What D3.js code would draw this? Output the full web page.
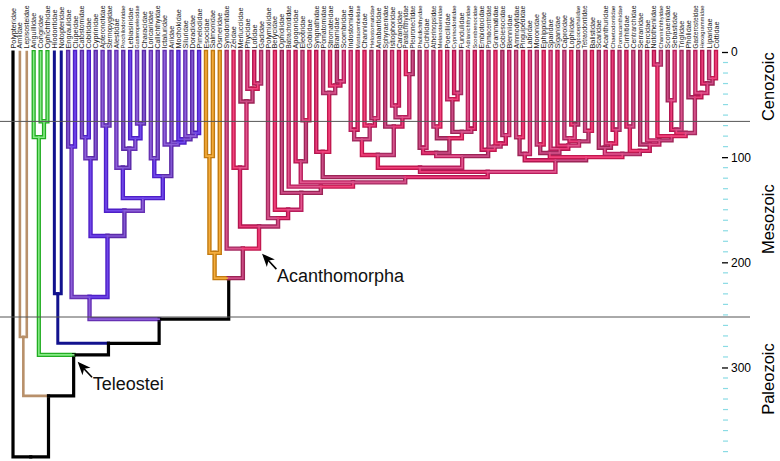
<!DOCTYPE html>
<html><head><meta charset="utf-8">
<script src="https://cdn.jsdelivr.net/npm/d3@7"></script>
<style>body{margin:0;background:#fff}svg{display:block;font-family:"Liberation Sans",Arial,sans-serif}</style>
</head><body><svg id="c" width="780" height="461"></svg>
<script>
// ---- DATA: clades written as Newick, internal labels = node age (Ma) ----
const otocephala = "((Engraulidae,Clupeidae)90,(((Catostomidae,Cobitidae)81,Cyprinidae)101,((Apteronotidae,Sternopygidae)70,((Alestidae,(Prochilodontidae,(Lebiasinidae,(Gasteropelecidae,Characidae)68)82)92)110,((Loricariidae,Callichthyidae)101,(Ictaluridae,(Ariidae,(Mochokidae,(Siluridae,(Doradidae,Pimelodidae)77)80)83)86)88)118)139)151)175)233";
const anabantaria = "((Indostomidae,Mastacembelidae)74,(Channidae,(Helostomatidae,Anabantidae)63)70)83";
const carangaria = "(Sphyraenidae,((Istiophoridae,Carangidae)51,(Paralichthyidae,Pleuronectidae)21)62)71";
const ovalentaria = "(((Pholidichthyidae,Cichlidae)91,((Atherinopsidae,Melanotaeniidae)71,((Poeciliidae,(Cyprinodontidae,Fundulidae)39)45,(Adrianichthyidae,Scombresocidae)73)76)82)96,(Embiotocidae,(Pomacentridae,(Grammatidae,(Gobiesocidae,Blenniidae)79)87)90)93)99";
const eupercaria = "(((Ammodytidae,Pinguipedidae)81,Labridae)97,(((Moronidae,Ephippidae)88,(Sparidae,(Siganidae,((Caproidae,(Lophiidae,Ogcocephalidae)69)82,(Tetraodontidae,Balistidae)75)85)89)92)96,((Scaridae,(Acanthuridae,(Chaetodontidae,Pomacanthidae)74)87)91,((Cirrhitidae,Centrarchidae)71,(Serranidae,(Percidae,((Nototheniidae,Channichthyidae)12,(((Scorpaenidae,Sebastidae)46,Triglidae)74,(Pholidae,(Gasterosteidae,(Hexagrammidae,(Liparidae,Cottidae)25)30)39)43)77)80)84)88)94)97)100)103";
const pelagiaria = "(Syngnathidae,(Pomatomidae,(Stromateidae,(Bramidae,Scombridae)28)32)39)95";
const gobiaria = "(Apogonidae,(Eleotridae,Gobiidae)65)104";
const percomorpha = `(${gobiaria},(${pelagiaria},(((${anabantaria},${carangaria})98,${ovalentaria})110,${eupercaria})114)119)124`;
const acanthomorpha = `((Zeidae,(Merlucciidae,(Phycidae,(Lotidae,Gadidae)30)35)47)110,(Polymixiidae,(Berycidae,(Ophidiidae,(Batrachoididae,${percomorpha})128)134)150)158)166`;
const euteleostei = `(((Esocidae,Salmonidae)99,Osmeridae)191,(Synodontidae,${acanthomorpha})187)215`;
const treeNewick = `(Polypteridae,((Amiidae,Lepisosteidae)271,((Anguillidae,(Congridae,Ophichthidae)66)81,((Hiodontidae,Notopteridae)230,(${otocephala},${euteleostei})254)277)288)327)385`;

// colour groups: first tip, last tip, group
const groupRanges = [
  ["Polypteridae","Polypteridae","stem"],
  ["Amiidae","Lepisosteidae","holostei"],
  ["Anguillidae","Ophichthidae","elopo"],
  ["Hiodontidae","Notopteridae","osteo"],
  ["Engraulidae","Pimelodidae","otoc"],
  ["Esocidae","Osmeridae","protac"],
  ["Synodontidae","Cottidae","neo"]
];
const majorTicks = [0,100,200,300];
const minorTicks = d3.range(10,390,10).filter(v => v % 100 !== 0);
const eraBounds = [66, 252];
const eras = [["Cenozoic",0,66],["Mesozoic",66,252],["Paleozoic",252,370]];
const annotations = ["Teleostei","Acanthomorpha"];

// ---- parse ----
function parseNewick(s){
  s = s.replace(/\s+/g,""); let i = 0;
  function node(){
    if (s[i] === "("){
      i++; const ch = [node()];
      while (s[i] === ","){ i++; ch.push(node()); }
      i++; let num = "";
      while (i < s.length && /[0-9.]/.test(s[i])) num += s[i++];
      return {children: ch, age: +num};
    }
    let name = "";
    while (i < s.length && !/[,()]/.test(s[i])) name += s[i++];
    return {name, age: 0};
  }
  return node();
}
const root = d3.hierarchy(parseNewick(treeNewick));
const leaves = root.leaves();
const tipNames = leaves.map(d => d.data.name);

const xScale = d3.scalePoint().domain(tipNames).range([13, 716]);
const yScale = d3.scaleLinear().domain([0, 400]).range([52, 52 + 400*1.0516]);

const tipGroup = {};
groupRanges.forEach(([a,b,g]) => {
  const i0 = tipNames.indexOf(a), i1 = tipNames.indexOf(b);
  for (let i=i0;i<=i1;i++) tipGroup[tipNames[i]] = g;
});
let k = 0;
root.eachAfter(d => {
  d.k = k++;
  if (d.children){
    d.x = (d.children[0].x + d.children[d.children.length-1].x)/2;
    const gs = new Set(d.children.map(c => c.group));
    d.group = gs.size === 1 ? [...gs][0] : "stem";
  } else {
    d.x = xScale(d.data.name);
    d.group = tipGroup[d.data.name];
  }
  d.y = yScale(d.data.age);
});

// [outer, inner or null, outer width]
const shades = {
  stem: [["#000", null, 3.2]],
  holostei: [["#b8906a", null, 2.6]],
  osteo: [["#12128e", null, 3.0]],
  elopo: [["#22ad22","#86ea86",4.2]],
  otoc: [["#5b2aa8","#8258d2",4.4],["#4e1fc8","#7048ea",4.4],["#6631b4","#8c60d8",4.4]],
  protac: [["#c27a10","#f4ac3c",4.4]],
  neo: [["#b3164f","#ea3c7a",4.4],["#a52a60","#d8548c",4.4],["#c2184f","#f2427c",4.4],["#9c2456","#cc4c86",4.4],["#b81e5c","#e2568e",4.4]]
};
function colorOf(d){
  const s = shades[d.group];
  return s[d.k % s.length];
}

const svg = d3.select("#c");
const edges = root.descendants().filter(d => d.parent);
const pathOf = d => `M${d.parent.x},${d.parent.y}H${d.x}V${d.y}`;

const gT = svg.append("g").attr("fill","none").attr("stroke-linecap","square").attr("stroke-linejoin","miter");
gT.selectAll("path.o").data(edges).join("path").attr("class","o")
  .attr("d", pathOf)
  .attr("stroke", d => colorOf(d)[0])
  .attr("stroke-width", d => colorOf(d)[2]);
gT.selectAll("path.i").data(edges.filter(d => colorOf(d)[1])).join("path").attr("class","i")
  .attr("d", pathOf)
  .attr("stroke", d => colorOf(d)[1])
  .attr("stroke-width", 1.6);

// tip labels (long names set smaller so they fit above the tree)
const baseFont = 7.3, maxLen = 43;
svg.append("g").selectAll("text").data(leaves).join("text")
  .attr("transform", d => `translate(${d.x},48.5) rotate(-90)`)
  .attr("dy","0.35em").attr("font-size",baseFont).attr("fill","#222")
  .text(d => d.data.name)
  .each(function(){
    const w = this.getComputedTextLength();
    if (w > maxLen) d3.select(this).attr("font-size", (baseFont*maxLen/w).toFixed(2));
  });

// era boundary lines
svg.append("g").selectAll("line").data(eraBounds).join("line")
  .attr("x1",0).attr("x2",750).attr("y1",d=>yScale(d)).attr("y2",d=>yScale(d))
  .attr("stroke","#555").attr("stroke-width",1);

// axis
svg.append("g").selectAll("line").data(minorTicks).join("line")
  .attr("x1",723).attr("x2",728).attr("y1",d=>yScale(d)).attr("y2",d=>yScale(d))
  .attr("stroke","#8adbe4").attr("stroke-width",1.2);
const ax = svg.append("g").attr("transform","translate(722,0)")
  .call(d3.axisRight(yScale).tickValues(majorTicks).tickSize(6).tickPadding(3));
ax.select(".domain").remove();
ax.selectAll("line").attr("stroke","#000").attr("stroke-width",1.3);
ax.selectAll("text").attr("font-size",12).attr("fill","#000").attr("font-family","Liberation Sans, Arial, sans-serif");

// era labels
svg.append("g").selectAll("text").data(eras).join("text")
  .attr("transform", d => `translate(768,${(yScale(d[1])+yScale(d[2]))/2}) rotate(-90)`)
  .attr("text-anchor","middle").attr("dy","0.35em").attr("font-size",16.5).attr("fill","#000")
  .text(d => d[0]);

// annotations
const has = (d,n) => d.leaves().some(l => l.data.name === n);
const teleo = root.descendants().find(d => d.children && has(d,"Anguillidae") && has(d,"Cottidae") && !has(d,"Amiidae"));
const acanth = root.descendants().find(d => d.children && has(d,"Zeidae") && has(d,"Cottidae") && !has(d,"Synodontidae"));
function arrow(tx, ty, label){
  const dx = 13, dy = 14, L = Math.hypot(dx,dy), ux = dx/L, uy = dy/L, px = -uy, py = ux;
  const hl = 13, hw = 5.5, notch = 3.5;
  const bx = tx + ux*hl, by = ty + uy*hl;
  const pts = [[tx,ty],[bx+px*hw,by+py*hw],[tx+ux*(hl-notch),ty+uy*(hl-notch)],[bx-px*hw,by-py*hw]];
  const g = svg.append("g");
  g.append("line").attr("x1",tx+ux*8).attr("y1",ty+uy*8).attr("x2",tx+ux*(L+2)).attr("y2",ty+uy*(L+2)).attr("stroke","#000").attr("stroke-width",1.6);
  g.append("polygon").attr("points",pts.map(p=>p.join(",")).join(" ")).attr("fill","#000");
  g.append("text").attr("x",tx+15).attr("y",ty+28).attr("font-size",18).attr("fill","#111").text(label);
}
arrow(teleo.x+4, teleo.y+7, annotations[0]);
arrow(acanth.x+3, acanth.parent.y+5, annotations[1]);
</script></body></html>
